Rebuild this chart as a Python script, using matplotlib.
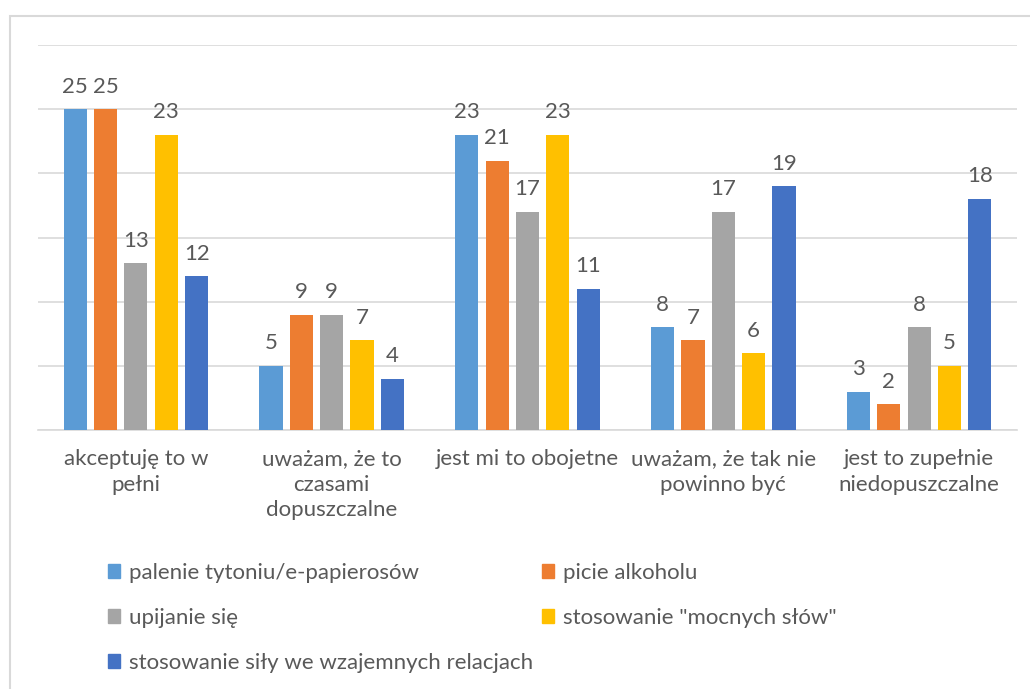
import matplotlib.pyplot as plt
import numpy as np
from matplotlib.patches import Rectangle, Patch

plt.rcParams['font.family'] = ['Lato', 'DejaVu Sans']

categories = ["akceptuję to w\npełni", "uważam, że to\nczasami\ndopuszczalne",
              "jest mi to obojetne", "uważam, że tak nie\npowinno być",
              "jest to zupełnie\nniedopuszczalne"]
series = ["palenie tytoniu/e-papierosów", "picie alkoholu", "upijanie się",
          "stosowanie \"mocnych słów\"", "stosowanie siły we wzajemnych relacjach"]
palenie = [25, 5, 23, 8, 3]
picie = [25, 9, 21, 7, 2]
upijanie = [13, 9, 17, 17, 8]
slowa = [23, 7, 23, 6, 5]
sila = [12, 4, 11, 19, 18]
colors = ["#5B9BD5", "#ED7D31", "#A5A5A5", "#FFC000", "#4472C4"]

text_color = "#595959"
grid_color = "#D9D9D9"
fs = 16

fig = plt.figure(figsize=(10.30, 6.89), dpi=100)
ax = fig.add_axes([38/1030, 1 - 430/689, (1017 - 38)/1030, (430 - 45)/689])

x = np.arange(len(categories))
step = 0.155
width = 0.118
handles = []
for i, vals in enumerate([palenie, picie, upijanie, slowa, sila]):
    pos = x + (i - 2) * step
    bars = ax.bar(pos, vals, width=width, color=colors[i], zorder=3)
    handles.append(Patch(color=colors[i], label=series[i]))
    for b, v in zip(bars, vals):
        ax.annotate(str(v), (b.get_x() + b.get_width()/2, v), xytext=(0, 9),
                    textcoords="offset points", ha="center", va="bottom",
                    fontsize=fs, color=text_color)

ax.set_xlim(-0.5, len(categories) - 0.5)
ax.set_ylim(0, 30)
ax.set_yticks(range(0, 31, 5))
ax.yaxis.grid(True, color=grid_color, lw=1.2, zorder=0)
ax.tick_params(axis='y', left=False, labelleft=False)
ax.tick_params(axis='x', length=0, pad=14)
ax.set_xticks(x)
ax.set_xticklabels(categories, fontsize=fs, color=text_color, linespacing=1.32)
for s in ['top', 'right', 'left']:
    ax.spines[s].set_visible(False)
ax.spines['bottom'].set_color(grid_color)
ax.spines['bottom'].set_linewidth(1.2)

# Excel fills legend rows first
order = [0, 2, 4, 1, 3]
fig.legend([handles[i] for i in order], [series[i] for i in order], ncol=2,
           loc='upper left', bbox_to_anchor=(88/1030, 1 - 543/689), frameon=False,
           fontsize=fs, labelcolor=text_color, handlelength=0.55, handleheight=0.55,
           handletextpad=0.4, columnspacing=0.4, labelspacing=1.12)

fig.patches.append(Rectangle((10/1030, -0.1), 1.2, 1 - 16/689 + 0.1,
                             transform=fig.transFigure, fill=False,
                             edgecolor=grid_color, lw=1.5))

fig.savefig("out.png", dpi=100)
